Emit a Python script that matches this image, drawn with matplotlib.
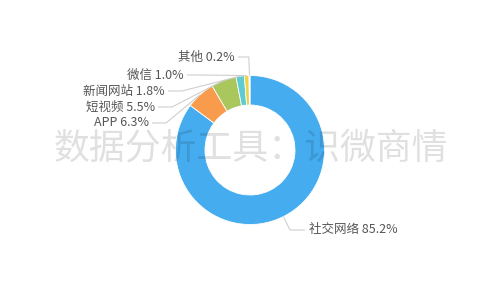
import matplotlib
matplotlib.use('Agg')
import matplotlib.pyplot as plt
import numpy as np

categories = ['社交网络', 'APP', '短视频', '新闻网站', '微信', '其他']
values = [85.2, 6.3, 5.5, 1.8, 1.0, 0.2]
colors = ['#45acf0', '#f99b4d', '#a9c75c', '#5ecbd3', '#e8d548', '#d9d9d9']
watermark = '数据分析工具：识微商情'

plt.rcParams['font.family'] = ['Noto Sans CJK SC', 'DejaVu Sans']

fig = plt.figure(figsize=(5, 3), dpi=100)
ax = fig.add_axes([0, 0, 1, 1])
H = 300
cx, cy, R, W = 250, 150, 74.5, 29.5

wedges, _ = ax.pie(values, colors=colors, startangle=90, counterclock=False,
                   center=(cx, H - cy), radius=R,
                   wedgeprops=dict(width=W, edgecolor='white', linewidth=0.6),
                   frame=True)
ax.set_xlim(0, 500)
ax.set_ylim(0, 300)
ax.set_aspect('auto')
ax.axis('off')

ax.text(251, H - 149, watermark, fontsize=25.8, color='black', alpha=0.12,
        fontweight='light', ha='center', va='center', zorder=5)

# label layout (image pixel coords): elbow, line end, text x, alignment
layout = {
    '社交网络': ((290, 230), (305, 230), 309, 'left'),
    'APP': ((166, 123), (152, 123), 149, 'right'),
    '短视频': ((172, 107), (158, 107), 155, 'right'),
    '新闻网站': ((182, 91), (168, 91), 165, 'right'),
    '微信': ((200, 75), (187, 75), 184, 'right'),
    '其他': ((248.8, 57), (238, 57), 235, 'right'),
}

for w, cat, v in zip(wedges, categories, values):
    ang = np.deg2rad((w.theta1 + w.theta2) / 2)
    ex = cx + R * np.cos(ang)
    ey = (H - cy) + R * np.sin(ang)
    (bx, by), (lx, ly), tx, ha = layout[cat]
    ax.plot([ex, bx, lx], [ey, H - by, H - ly], color='#cfcfcf', lw=0.8,
            zorder=2, solid_capstyle='butt')
    ax.text(tx, H - ly, f'{cat} {v:.1f}%', fontsize=9, color='#555555',
            ha=ha, va='center', zorder=3)

fig.savefig('out.png', dpi=100, facecolor='white')
